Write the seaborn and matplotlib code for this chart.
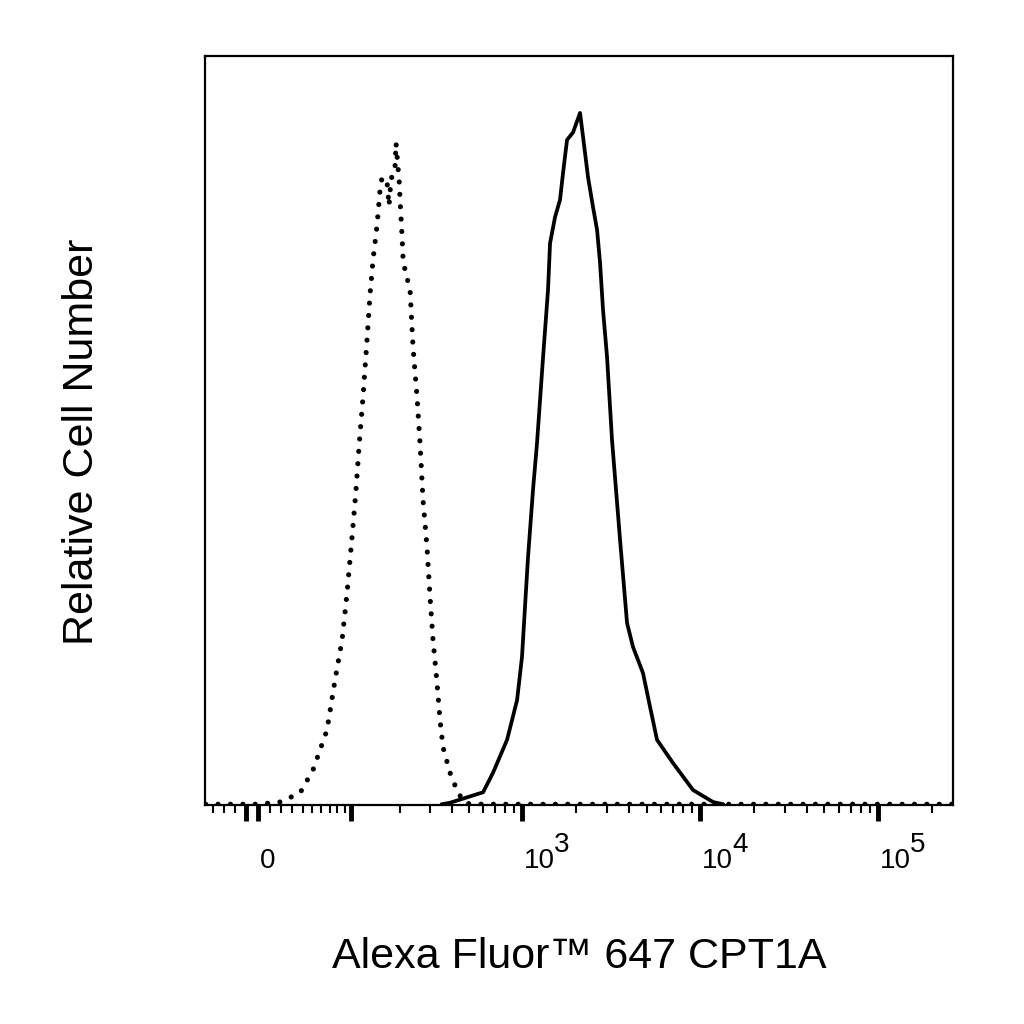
import numpy as np
import matplotlib
matplotlib.use('Agg')
import matplotlib.pyplot as plt
import matplotlib.transforms as mtransforms
import seaborn as sns
import pandas as pd

# ---------------- data ----------------
# Control (dotted)
dotted_x = [-48, 0, 18.9, 37.5, 50.8, 66.7, 76.8, 86.3, 93.5, 101.1, 107.5, 112.4,
            119.3, 126.5, 132.2, 138.0, 146.1, 152.4, 156.8, 168.1, 172.8, 177.6,
            187.7, 190.3, 195.6, 198.3, 201.0, 206.5, 209.3, 215.1, 230.1, 239.6,
            252.7, 263.0, 273.8, 288.7, 300.4, 312.6, 329.5, 342.9, 356.7, 391.0,
            434.2, 480, 600, 263000]
dotted_y = [1, 1, 4, 16, 47, 100, 167, 220, 283, 358, 421, 478,
            545, 621, 682, 728, 774, 821, 838, 832, 800, 835,
            852, 884, 850, 838, 808, 760, 730, 714, 688, 611,
            545, 483, 407, 344, 278, 220, 163, 113, 77, 43,
            16, 2, 1, 1]

# CPT1A stained (solid)
solid_x = [350, 391, 602, 685, 822, 936, 998, 1037, 1079, 1151, 1212, 1311, 1398,
           1435, 1531, 1633, 1698, 1788, 1933, 2116, 2200, 2347, 2504, 2637, 2741,
           2849, 3001, 3201, 3551, 3887, 4200, 4780, 5234, 5729, 7047, 9127, 11826,
           13500]
solid_y = [1, 3, 17, 43, 87, 140, 198, 264, 331, 421, 483, 598, 688,
           750, 785, 808, 844, 888, 898, 924, 892, 838, 798, 768, 724,
           661, 598, 487, 354, 243, 211, 176, 131, 87, 56, 20, 4,
           1]

major_ticks = [-10, 0, 100, 1000, 10000, 100000]
major_labels = ['', '0', '', '10', '10', '10']
exp_ticks = [1000, 10000, 100000]
exp_labels = ['3', '4', '5']
minor_ticks = ([-40, -30, -20] + list(range(10, 100, 10)) + list(range(200, 1000, 100))
               + list(range(2000, 10000, 1000)) + list(range(20000, 100000, 10000))
               + [200000])

x_title = 'Alexa Fluor\u2122 647 CPT1A'
y_title = 'Relative Cell Number'

# ---------------- style ----------------
sns.set_style('white')
plt.rcParams['font.family'] = ['Liberation Sans', 'DejaVu Sans']
plt.rcParams['text.color'] = 'black'
plt.rcParams['axes.labelcolor'] = 'black'
plt.rcParams['xtick.color'] = 'black'
plt.rcParams['ytick.color'] = 'black'
narrow = ['Liberation Sans Narrow', 'Liberation Sans', 'DejaVu Sans']

W = 65.7
def fwd(x):
    return np.arcsinh(np.asarray(x, dtype=float) / W) / np.log(10)

def inv(y):
    return W * np.sinh(np.asarray(y, dtype=float) * np.log(10))

fig = plt.figure(figsize=(10.24, 10.24), dpi=100)
ax = fig.add_axes([205 / 1024, 1 - 805 / 1024, 748 / 1024, 749 / 1024])
ax.set_xscale('function', functions=(fwd, inv))

df_d = pd.DataFrame({'x': dotted_x, 'y': dotted_y})
df_s = pd.DataFrame({'x': solid_x, 'y': solid_y})

sns.lineplot(data=df_d, x='x', y='y', ax=ax, color='black', linewidth=3.7,
             estimator=None, sort=False)
ld = ax.lines[-1]
ld.set_linestyle((0, (0.01, 2.4)))
ld.set_dash_capstyle('round')

sns.lineplot(data=df_s, x='x', y='y', ax=ax, color='black', linewidth=2.7,
             estimator=None, sort=False)
ax.lines[-1].set_solid_joinstyle('round')

ax.set_xlim(-48.7, 263600)
ax.set_ylim(0, 1000)

for s in ax.spines.values():
    s.set_color('black')
    s.set_linewidth(1.6)
    s.set_visible(True)

ax.set_yticks([])
ax.set_xticks(major_ticks, labels=major_labels)
ax.set_xticks(minor_ticks, minor=True)
ax.tick_params(axis='x', which='major', direction='out', length=11.5, width=3.5,
               pad=33.9, labelsize=20, color='black', labelcolor='black', bottom=True)
ax.tick_params(axis='x', which='minor', direction='out', length=5.8, width=1.5,
               color='black', bottom=True)

shift = mtransforms.ScaledTranslation(2 / 100, 0, fig.dpi_scale_trans)
for lab in ax.get_xticklabels():
    lab.set_fontfamily(narrow)
    lab.set_verticalalignment('baseline')
    lab.set_horizontalalignment('left')
    lab.set_transform(lab.get_transform() + shift)

for xv, e in zip(exp_ticks, exp_labels):
    ax.annotate(e, xy=(xv, 0), xycoords=('data', 'axes fraction'),
                xytext=(32 * 0.72, -47 * 0.72), textcoords='offset points',
                ha='left', va='baseline', fontsize=20, family=narrow,
                color='black', annotation_clip=False)

ax.set_xlabel(x_title, fontsize=31)
ax.xaxis.set_label_coords(0.5, (805 - 968) / 749)
ax.xaxis.label.set_verticalalignment('baseline')

ax.set_ylabel(y_title, fontsize=31)
ax.yaxis.set_label_coords((93 - 205) / 748, (805 - 442) / 749)
ax.yaxis.label.set_verticalalignment('baseline')

fig.savefig('out.png', dpi=100)
